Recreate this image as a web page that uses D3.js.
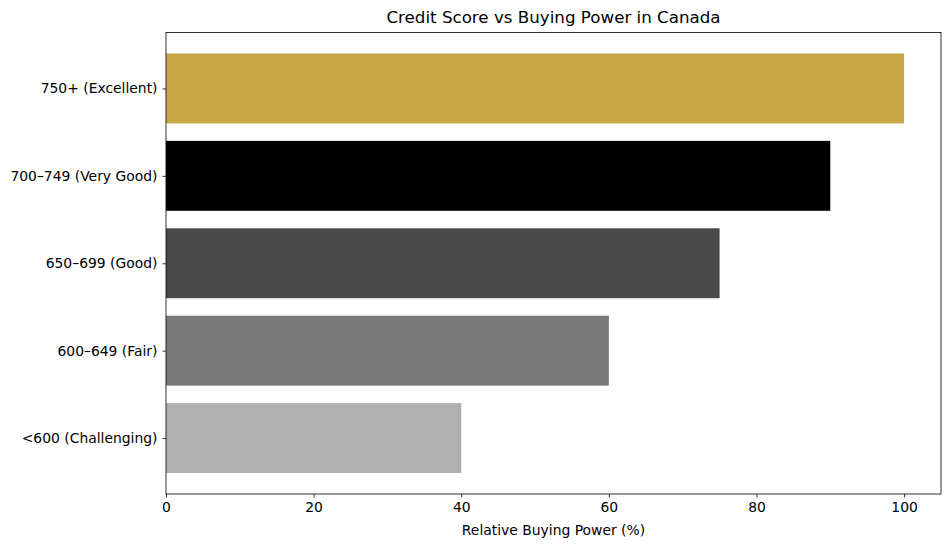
<!DOCTYPE html>
<html>
<head>
<meta charset="utf-8">
<script src="https://cdn.jsdelivr.net/npm/d3@7"></script>
<style>
  body { margin: 0; background: #fff; }
  text { font-family: "DejaVu Sans", sans-serif; fill: #000; }
</style>
</head>
<body>
<svg id="chart" width="951" height="547"></svg>
<script>
// data
var categories = ["750+ (Excellent)", "700\u2013749 (Very Good)", "650\u2013699 (Good)", "600\u2013649 (Fair)", "<600 (Challenging)"];
var values = [100, 90, 75, 60, 40];
var colors = ["#c9a646", "#000000", "#4a4a4a", "#7a7a7a", "#b0b0b0"];
var xTicks = [0, 20, 40, 60, 80, 100];

// plot area (note: "top" clashes with window.top, so use plotTop etc.)
var plotLeft = 166, plotRight = 941, plotTop = 32.5, plotBottom = 494;
var svg = d3.select("#chart");

var x = d3.scaleLinear().domain([0, 105]).range([plotLeft, plotRight]);
// matplotlib style: positions 0..4, bars 0.8 tall, 5% margins
var y = d3.scaleLinear().domain([-0.64, 4.64]).range([plotTop, plotBottom]);

svg.selectAll("rect.bar")
  .data(values)
  .enter().append("rect")
  .attr("class", "bar")
  .attr("x", x(0))
  .attr("y", function (d, i) { return y(i - 0.4); })
  .attr("width", function (d) { return x(d) - x(0); })
  .attr("height", function (d, i) { return y(i + 0.4) - y(i - 0.4); })
  .attr("fill", function (d, i) { return colors[i]; });

// axes
var xAxis = d3.axisBottom(x).tickValues(xTicks).tickSize(3.5).tickPadding(5);
var gx = svg.append("g").attr("transform", "translate(0," + plotBottom + ")").call(xAxis);
gx.select(".domain").remove();
gx.selectAll("text").style("font-size", "13.9px");
gx.selectAll("line").attr("stroke-width", 0.8);

var yAxis = d3.axisLeft(y).tickValues(d3.range(categories.length))
  .tickFormat(function (i) { return categories[i]; }).tickSize(3.5).tickPadding(5);
var gy = svg.append("g").attr("transform", "translate(" + plotLeft + ",0)").call(yAxis);
gy.select(".domain").remove();
gy.selectAll("text").style("font-size", "13.9px");
gy.selectAll("line").attr("stroke-width", 0.8);

// frame
svg.append("rect")
  .attr("x", plotLeft).attr("y", plotTop)
  .attr("width", plotRight - plotLeft).attr("height", plotBottom - plotTop)
  .attr("fill", "none").attr("stroke", "#000").attr("stroke-width", 0.8);

svg.append("text")
  .attr("x", (plotLeft + plotRight) / 2).attr("y", 23)
  .attr("text-anchor", "middle")
  .style("font-size", "16.7px")
  .text("Credit Score vs Buying Power in Canada");

svg.append("text")
  .attr("x", (plotLeft + plotRight) / 2).attr("y", 535)
  .attr("text-anchor", "middle")
  .style("font-size", "13.9px")
  .text("Relative Buying Power (%)");
</script>
</body>
</html>
